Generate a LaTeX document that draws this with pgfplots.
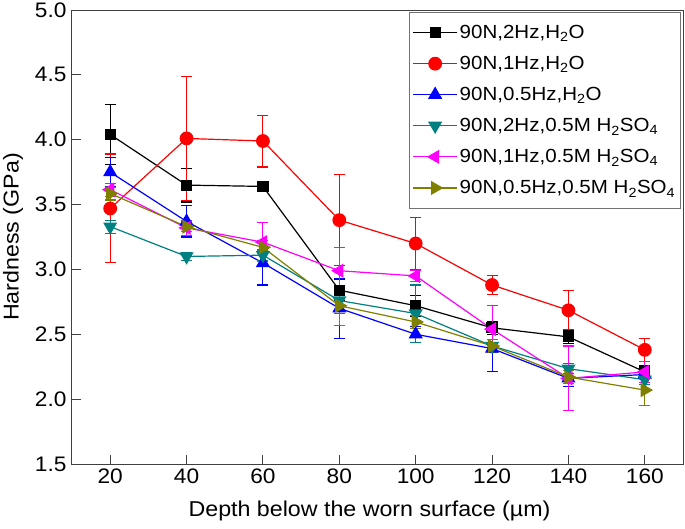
\documentclass[border=0pt]{standalone}
\usepackage{fontspec}
\setmainfont[FakeStretch=1.08]{Liberation Sans}
\usepackage{pgfplots}
\pgfplotsset{compat=1.18}
\definecolor{cteal}{RGB}{0,128,128}
\definecolor{colive}{RGB}{128,128,0}
\definecolor{cmag}{RGB}{255,0,255}
\definecolor{cblue}{RGB}{0,0,255}
\definecolor{cred}{RGB}{255,0,0}
\pgfplotsset{longleg/.style={legend image code/.code={%
  \draw[##1] (0pt,0pt) -- (44pt,0pt);
  \path[##1, draw=none] plot[mark repeat=1] coordinates {(22pt,0pt)};}}}
\begin{document}
\begin{tikzpicture}
\path[use as bounding box] (-72pt,-64pt) rectangle (613pt,464pt);
\begin{axis}[
  at={(0pt,0pt)}, anchor=origin,
  scale only axis,
  width=611pt, height=454pt,
  xmin=10, xmax=170, ymin=1.5, ymax=5.0,
  xtick={20,40,...,160},
  ytick={1.5,2.0,...,5.0},
  /pgf/number format/assume math mode=true,
  tick align=inside,
  xtick pos=bottom, ytick pos=left,
  major tick length=9pt,
  axis line style={line width=1pt, black!75},
  tick style={line width=1pt, black!75},
  ticklabel style={font=\fontsize{21}{24}\selectfont},
  yticklabel style={xshift=-2pt, /pgf/number format/.cd,fixed,fixed zerofill,precision=1},
  xticklabel style={yshift=-1pt},
  label style={font=\fontsize{21.5}{24}\selectfont},
  xlabel={Depth below the worn surface (\textmu m)},
  ylabel={Hardness (GPa)},
  xlabel style={at={(rel axis cs:0.5,0)}, anchor=center, yshift=-47pt, xshift=-8pt},
  ylabel style={at={(rel axis cs:0,0.5)}, anchor=center, yshift=59pt},
  legend style={at={(rel axis cs:0.996,0.996)}, anchor=north east,
    font=\fontsize{19}{22}\selectfont, draw=black!55, line width=0.8pt,
    row sep=12.3pt, inner xsep=3pt, inner ysep=11pt},
  legend cell align=left,
  every axis plot/.append style={line width=1.2pt},
  error bars/y dir=both, error bars/y explicit,
  error bars/error mark options={rotate=90, mark size=5.5pt, line width=1.1pt},
  error bars/error bar style={line width=1.1pt},
]
\addplot[black, mark=square*, mark size=5pt, longleg] table[x=x,y=y,y error=e] {
x y e
20 4.04 0.23
40 3.65 0.13
60 3.64 0.04
80 2.84 0.08
100 2.72 0.08
120 2.55 0.05
140 2.48 0.05
160 2.21 0.05
};
\addlegendentry{90N,2Hz,H\textsubscript{2}O}
\addplot[cred, mark=*, mark size=6.3pt, longleg] table[x=x,y=y,y error=e] {
x y e
20 3.47 0.42
40 4.01 0.48
60 3.99 0.20
80 3.38 0.35
100 3.20 0.20
120 2.88 0.07
140 2.685 0.15
160 2.38 0.09
};
\addlegendentry{90N,1Hz,H\textsubscript{2}O}
\addplot[cblue, mark=triangle*, mark size=7pt, longleg] table[x=x,y=y,y error=e] {
x y e
20 3.75 0.11
40 3.37 0.12
60 3.05 0.17
80 2.70 0.23
100 2.50 0.06
120 2.39 0.18
140 2.16 0.06
160 2.19 0.06
};
\addlegendentry{90N,0.5Hz,H\textsubscript{2}O}
\addplot[cteal, mark=triangle*, mark options={rotate=180}, mark size=7pt, longleg] table[x=x,y=y,y error=e] {
x y e
20 3.33 0.05
40 3.10 0.03
60 3.11 0.04
80 2.76 0.10
100 2.66 0.22
120 2.41 0.05
140 2.235 0.04
160 2.15 0.04
};
\addlegendentry{90N,2Hz,0.5M H\textsubscript{2}SO\textsubscript{4}}
\addplot[cmag, mark=triangle*, mark options={rotate=90}, mark size=7pt, longleg] table[x=x,y=y,y error=e] {
x y e
20 3.615 0.05
40 3.32 0.06
60 3.21 0.15
80 2.99 0.18
100 2.95 0.04
120 2.54 0.18
140 2.16 0.25
160 2.21 0.08
};
\addlegendentry{90N,1Hz,0.5M H\textsubscript{2}SO\textsubscript{4}}
\addplot[colive, mark=triangle*, mark options={rotate=-90}, mark size=7pt, longleg] table[x=x,y=y,y error=e] {
x y e
20 3.585 0.05
40 3.33 0.04
60 3.17 0.05
80 2.72 0.15
100 2.595 0.05
120 2.41 0.05
140 2.17 0.05
160 2.07 0.12
};
\addlegendentry{90N,0.5Hz,0.5M H\textsubscript{2}SO\textsubscript{4}}
\end{axis}
\end{tikzpicture}
\end{document}
